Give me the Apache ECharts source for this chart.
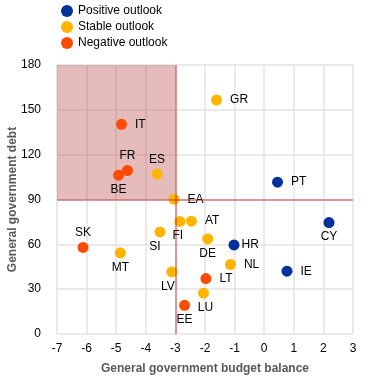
<!DOCTYPE html>
<html>
<head>
<meta charset="utf-8">
<script src="https://cdn.jsdelivr.net/npm/echarts@6/dist/echarts.min.js"></script>
<style>
  html, body { margin: 0; padding: 0; background: #fff; }
  #main { width: 372px; height: 377px; }
</style>
</head>
<body>
<div id="main"></div>
<script>
// positive outlook
var posNames = ['PT', 'CY', 'IE', 'HR'];
var posBalance = [0.45, 2.19, 0.77, -1.02];
var posDebt = [101.6, 74.6, 42, 59.6];

// stable outlook
var stbNames = ['GR', 'ES', 'EA', 'FI', 'AT', 'SI', 'DE', 'MT', 'NL', 'LV', 'LU'];
var stbBalance = [-1.61, -3.62, -3.05, -2.85, -2.46, -3.52, -1.91, -4.86, -1.14, -3.12, -2.05];
var stbDebt = [156.5, 107, 90.2, 75.3, 75.5, 68.3, 63.6, 54.3, 46.5, 41.5, 27.3];

// negative outlook
var negNames = ['IT', 'FR', 'BE', 'SK', 'LT', 'EE'];
var negBalance = [-4.82, -4.62, -4.92, -6.12, -1.97, -2.69];
var negDebt = [140.3, 109.4, 106.3, 57.9, 37.1, 19.2];

var xTicks = [-7, 3];
var yTicks = [0, 180];
var deficitLimit = -3;
var debtLimit = 90;

// where each country label sits relative to its dot
var labelPos = {
  FR: 'top', ES: 'top', SK: 'top',
  BE: 'bottom', MT: 'bottom', LV: 'bottom', FI: 'bottom', DE: 'bottom',
  CY: 'bottom', LU: 'bottom', EE: 'bottom', SI: 'bottom'
};
var labelOffset = { SI: [-5, 0], LV: [-4, 0], LU: [2, 0], FI: [-2, 0] };
var labelDist = { HR: 2 };

function pts(names, xs, ys) {
  return names.map(function (n, i) {
    var p = labelPos[n] || 'right';
    var d = labelDist[n] != null ? labelDist[n] : (p === 'right' ? 8 : 3);
    return {
      name: n,
      value: [xs[i], ys[i]],
      label: { position: p, offset: labelOffset[n] || [0, 0], distance: d }
    };
  });
}

var chart = echarts.init(document.getElementById('main'));

function scatter(name, color, data) {
  return {
    name: name,
    type: 'scatter',
    symbolSize: 11,
    itemStyle: { color: color, opacity: 1 },
    label: {
      show: true,
      formatter: '{b}',
      color: '#000',
      fontSize: 12,
      fontFamily: 'Liberation Sans'
    },
    data: data
  };
}

var option = {
  animation: false,
  textStyle: { fontFamily: 'Liberation Sans' },
  legend: {
    orient: 'vertical',
    left: 56,
    top: 0,
    itemGap: 4,
    itemWidth: 12,
    itemHeight: 12,
    icon: 'circle',
    textStyle: { fontSize: 12, color: '#000' },
    data: ['Positive outlook', 'Stable outlook', 'Negative outlook']
  },
  grid: { left: 57, right: 19, top: 65, bottom: 43, outerBoundsMode: 'none', containLabel: false },
  xAxis: {
    type: 'value',
    min: xTicks[0],
    max: xTicks[1],
    interval: 1,
    name: 'General government budget balance',
    nameLocation: 'middle',
    nameGap: 29,
    nameMoveOverlap: false,
    nameTextStyle: { fontWeight: 'bold', color: '#595959', fontSize: 12 },
    axisLine: { show: false },
    axisTick: { show: false },
    axisLabel: { color: '#000', fontSize: 12, margin: 9 },
    splitLine: { lineStyle: { color: '#e3e3e3', width: 1.5 } }
  },
  yAxis: {
    type: 'value',
    min: yTicks[0],
    max: yTicks[1],
    interval: 30,
    name: 'General government debt',
    nameLocation: 'middle',
    nameGap: 38,
    nameMoveOverlap: false,
    nameTextStyle: { fontWeight: 'bold', color: '#595959', fontSize: 12 },
    axisLine: { show: false },
    axisTick: { show: false },
    axisLabel: { color: '#000', fontSize: 12, margin: 16 },
    splitLine: { lineStyle: { color: '#e3e3e3', width: 1.5 } }
  },
  series: [
    scatter('Positive outlook', '#003299', pts(posNames, posBalance, posDebt)),
    scatter('Stable outlook', '#ffb400', pts(stbNames, stbBalance, stbDebt)),
    scatter('Negative outlook', '#ff4b00', pts(negNames, negBalance, negDebt)),
    {
      type: 'scatter',
      data: [],
      zlevel: 1,
      silent: true,
      markArea: {
        silent: true,
        itemStyle: { color: 'rgba(187,67,67,0.36)' },
        data: [[{ coord: [xTicks[0], yTicks[1]] }, { coord: [deficitLimit, debtLimit] }]]
      },
      markLine: {
        silent: true,
        symbol: 'none',
        label: { show: false },
        lineStyle: { color: 'rgba(192,30,30,0.55)', width: 1.5, type: 'solid' },
        data: [{ xAxis: deficitLimit }, { yAxis: debtLimit }]
      }
    }
  ]
};

chart.setOption(option);
</script>
</body>
</html>
